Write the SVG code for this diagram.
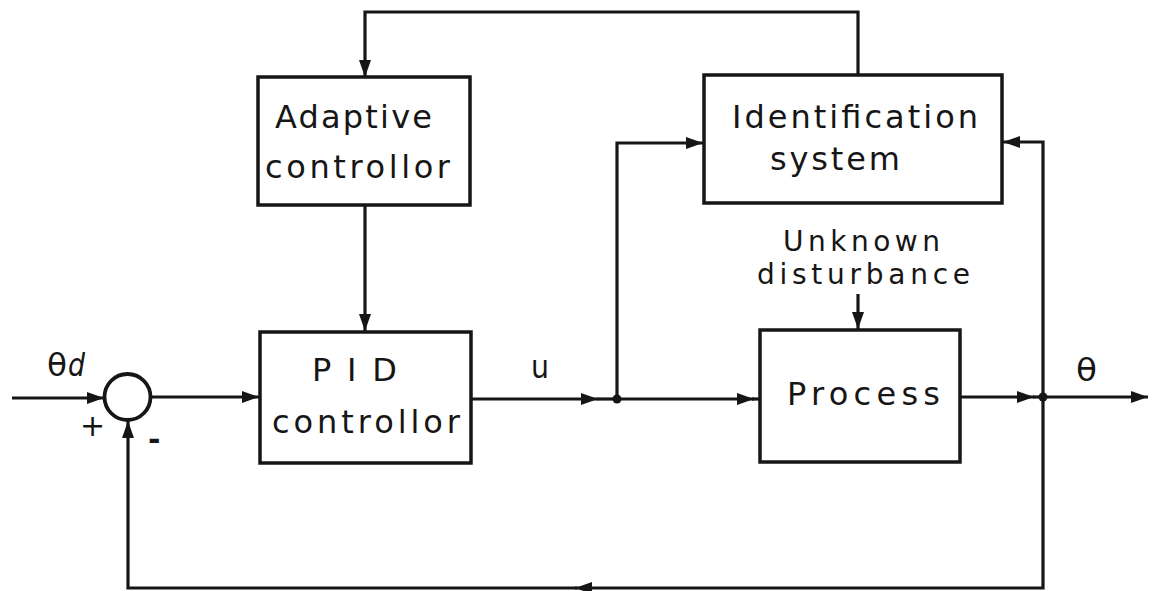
<svg xmlns="http://www.w3.org/2000/svg" width="1157" height="591" viewBox="0 0 1157 591">
<style>
.box{fill:none;stroke:#161616;stroke-width:3.5}
.ln{fill:none;stroke:#161616;stroke-width:3.2}
.t{font-family:"DejaVu Sans",sans-serif;font-size:32px;fill:#161616}
.d{font-family:"DejaVu Sans",sans-serif;font-size:28px;fill:#161616}
.s{font-family:"DejaVu Sans",sans-serif;font-size:30px;fill:#161616}
</style>
<defs>
<marker id="ah" markerUnits="userSpaceOnUse" markerWidth="18" markerHeight="12" refX="17" refY="6" orient="auto">
<path d="M0,0 L17,6 L0,12 z" fill="#161616"/>
</marker>
</defs>
<rect width="1157" height="591" fill="#ffffff"/>
<g id="connectors">
<line class="ln" x1="12" y1="398" x2="104" y2="398" marker-end="url(#ah)"/>
<line class="ln" x1="151" y1="397" x2="259" y2="397" marker-end="url(#ah)"/>
<line class="ln" x1="471" y1="399" x2="598" y2="399" marker-end="url(#ah)"/>
<line class="ln" x1="597" y1="399" x2="617" y2="399"/>
<line class="ln" x1="617" y1="399" x2="754" y2="399" marker-end="url(#ah)"/>
<line class="ln" x1="752" y1="399" x2="760" y2="399"/>
<polyline class="ln" points="617,399 617,143 703,143" marker-end="url(#ah)"/>
<line class="ln" x1="960" y1="397" x2="1034" y2="397" marker-end="url(#ah)"/>
<line class="ln" x1="1033" y1="397" x2="1043" y2="397"/>
<line class="ln" x1="1043" y1="397" x2="1148" y2="397" marker-end="url(#ah)"/>
<polyline class="ln" points="1043,397 1043,142 1003,142" marker-end="url(#ah)"/>
<polyline class="ln" points="1043,397 1043,588 575,588" marker-end="url(#ah)"/>
<polyline class="ln" points="577,588 128,588 128,421" marker-end="url(#ah)"/>
<polyline class="ln" points="858,75 858,12 365,12 365,77" marker-end="url(#ah)"/>
<line class="ln" x1="365" y1="205" x2="365" y2="331" marker-end="url(#ah)"/>
<line class="ln" x1="858" y1="294" x2="858" y2="329" marker-end="url(#ah)"/>
<circle cx="617" cy="399" r="4.5" fill="#161616"/>
<circle cx="1043" cy="397" r="4.5" fill="#161616"/>
</g>
<g id="sum">
<circle cx="127.5" cy="397" r="23" fill="none" stroke="#161616" stroke-width="3.8"/>
<text class="s" x="80" y="436">+</text>
<text class="s" x="148" y="450" font-weight="bold">-</text>
</g>
<g id="adaptive">
<rect class="box" x="258" y="77" width="212" height="128"/>
<text class="t" x="275" y="128" textLength="157" lengthAdjust="spacing">Adaptive</text>
<text class="t" x="265" y="178" textLength="185" lengthAdjust="spacing">controllor</text>
</g>
<g id="pid">
<rect class="box" x="260" y="332" width="211" height="131"/>
<text class="t" x="312" y="381" textLength="85" lengthAdjust="spacing">P I D</text>
<text class="t" x="272" y="433" textLength="188" lengthAdjust="spacing">controllor</text>
</g>
<g id="identification">
<rect class="box" x="704" y="75" width="298" height="128"/>
<text class="t" x="732" y="128" textLength="246" lengthAdjust="spacing">Identification</text>
<text class="t" x="770" y="170" textLength="130" lengthAdjust="spacing">system</text>
</g>
<g id="process">
<rect class="box" x="760" y="330" width="200" height="132"/>
<text class="t" x="787" y="405" textLength="153" lengthAdjust="spacing">Process</text>
</g>
<g id="labels">
<text class="d" x="783" y="251" textLength="157" lengthAdjust="spacing">Unknown</text>
<text class="d" x="757" y="284" textLength="213" lengthAdjust="spacing">disturbance</text>
<text class="t" x="531" y="378" textLength="18" lengthAdjust="spacingAndGlyphs">u</text>
<text class="t" x="47" y="376" textLength="20" lengthAdjust="spacingAndGlyphs">θ</text>
<text class="t" x="68" y="376" textLength="17" lengthAdjust="spacingAndGlyphs" font-style="italic" font-size="24">d</text>
<text class="t" x="1076" y="381" textLength="21" lengthAdjust="spacingAndGlyphs">θ</text>
</g>
</svg>
